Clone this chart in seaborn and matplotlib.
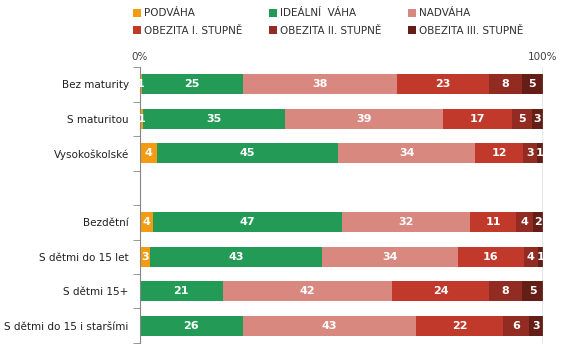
import pandas as pd
import numpy as np
import matplotlib
matplotlib.use("Agg")
import matplotlib.pyplot as plt
import seaborn as sns
from matplotlib.patches import Patch

# Kategorie (prázdná položka = mezera mezi skupinami)
kategorie = ["Bez maturity", "S maturitou", "Vysokoškolské", "",
             "Bezdětní", "S dětmi do 15 let", "S dětmi 15+", "S dětmi do 15 i staršími"]

serie = ["PODVÁHA", "IDEÁLNÍ  VÁHA", "NADVÁHA",
         "OBEZITA I. STUPNĚ", "OBEZITA II. STUPNĚ", "OBEZITA III. STUPNĚ"]
barvy = ["#F39C12", "#239B57", "#D98880", "#C0392B", "#922B21", "#641E16"]

# Odhadnuté podíly (%)
podvaha = [0.5, 0.8, 4.2, np.nan, 3.2, 2.5, 0.0, 0.0]
idealni = [25.0, 35.2, 45.0, np.nan, 46.9, 42.7, 20.6, 25.6]
nadvaha = [38.2, 39.2, 34.0, np.nan, 31.8, 33.8, 42.0, 43.0]
obezita1 = [22.8, 17.1, 11.9, np.nan, 11.4, 16.4, 24.1, 21.6]
obezita2 = [8.2, 5.0, 3.5, np.nan, 4.2, 3.5, 8.2, 6.5]
obezita3 = [5.1, 2.6, 1.4, np.nan, 2.4, 1.2, 5.1, 3.4]

# Popisky hodnot, jak jsou v grafu
popisky = [
    ["1", "25", "38", "23", "8", "5"],
    ["1", "35", "39", "17", "5", "3"],
    ["4", "45", "34", "12", "3", "1"],
    None,
    ["4", "47", "32", "11", "4", "2"],
    ["3", "43", "34", "16", "4", "1"],
    ["", "21", "42", "24", "8", "5"],
    ["", "26", "43", "22", "6", "3"],
]

df = pd.DataFrame({"kategorie": kategorie})
for nazev, hodnoty in zip(serie, [podvaha, idealni, nadvaha, obezita1, obezita2, obezita3]):
    df[nazev] = hodnoty
soucet = df[serie].sum(axis=1).replace(0, np.nan)
df[serie] = df[serie].div(soucet, axis=0) * 100
kum = df[serie].cumsum(axis=1)

plt.rcParams["font.family"] = ["DejaVu Sans"]
fig = plt.figure(figsize=(5.66, 3.61), dpi=100)
ax = fig.add_axes([0.247, 0.050, 0.712, 0.764])

# vrstvení od největší kumulativní hodnoty
for i in range(len(serie) - 1, -1, -1):
    sns.barplot(x=kum[serie[i]], y=df["kategorie"], order=kategorie, orient="h",
                color=barvy[i], width=0.58, saturation=1, ax=ax, linewidth=0)

# popisky hodnot
for r, lab in enumerate(popisky):
    if lab is None:
        continue
    zacatek = 0
    for j, s in enumerate(serie):
        w = df.loc[r, s]
        if lab[j]:
            ax.text(zacatek + w / 2, r, lab[j], ha="center", va="center",
                    color="white", fontsize=8, fontweight="bold")
        zacatek += w

ax.set_xlim(0, 100)
ax.set_ylim(len(kategorie) - 0.5, -0.5)
ax.set_xlabel("")
ax.set_ylabel("")
ax.xaxis.tick_top()
ax.set_xticks([0, 100])
ax.set_xticklabels(["0%", "100%"], fontsize=7.5, color="#404040")
ax.tick_params(axis="x", length=0, pad=4)
ax.axvline(100, color="#868686", lw=1)
ax.set_yticks(range(len(kategorie)))
ax.set_yticklabels(kategorie, fontsize=7.5, color="#202020")
ax.tick_params(axis="y", length=0, pad=8)
ax.set_yticks(np.arange(-0.5, len(kategorie)), minor=True)
ax.tick_params(axis="y", which="minor", length=5, color="#868686")
for sp in ["top", "right", "bottom"]:
    ax.spines[sp].set_visible(False)
ax.spines["left"].set_color("#868686")

handles = [Patch(facecolor=c, label=s) for c, s in zip(barvy, serie)]
poradi = [0, 3, 1, 4, 2, 5]
fig.legend([handles[i] for i in poradi], [serie[i] for i in poradi], ncol=3,
           loc="upper left", bbox_to_anchor=(0.222, 0.997), frameon=False,
           fontsize=7.5, handlelength=0.8, handleheight=0.8, handletextpad=0.3,
           columnspacing=2.5, labelspacing=0.7, borderpad=0.2,
           labelcolor="#303030")

fig.savefig("out.png", dpi=100)
